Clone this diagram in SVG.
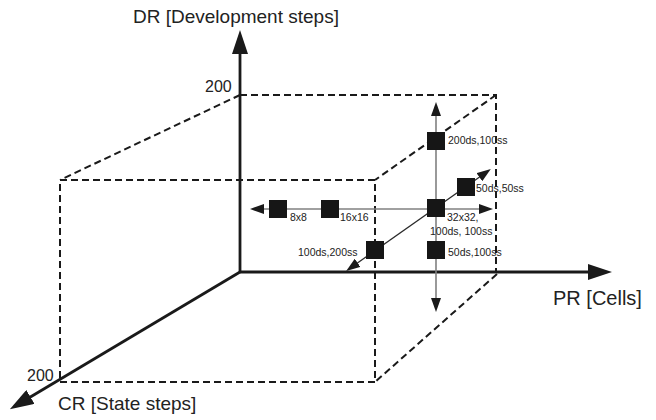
<svg xmlns="http://www.w3.org/2000/svg" width="656" height="420" viewBox="0 0 656 420">
  <style>
    .axis { stroke: #1a1a1a; stroke-width: 2.8; fill: none; }
    .dash { stroke: #1a1a1a; stroke-width: 2; stroke-dasharray: 7 4; fill: none; }
    .grid { stroke: #808080; stroke-width: 1.6; fill: none; }
    .diag { stroke: #2a2a2a; stroke-width: 1.3; fill: none; }
    .node { fill: #161616; }
    .big { font-family: "Liberation Sans", Arial, sans-serif; font-size: 19px; fill: #222; }
    .tick { font-family: "Liberation Sans", Arial, sans-serif; font-size: 16px; fill: #222; }
    .small { font-family: "Liberation Sans", Arial, sans-serif; font-size: 10.5px; fill: #222; }
  </style>
  <defs>
    <marker id="axisHead" markerUnits="userSpaceOnUse" markerWidth="24" markerHeight="16" refX="4" refY="8" orient="auto">
      <path d="M0,0 L24,8 L0,16 z" fill="#1a1a1a"/>
    </marker>
    <marker id="gridHead" markerUnits="userSpaceOnUse" markerWidth="14" markerHeight="10" refX="2" refY="5" orient="auto-start-reverse">
      <path d="M0,0 L14,5 L0,10 z" fill="#1a1a1a"/>
    </marker>
  </defs>

  <!-- dashed bounding box of the parameter space -->
  <g id="box">
    <path class="dash" d="M240,95 H496 V272"/>
    <path class="dash" d="M240,95 L60,180"/>
    <path class="dash" d="M496,95 L375,180"/>
    <path class="dash" d="M497,274 L375,382"/>
    <path class="dash" d="M60,180 H375 V382 H60 Z"/>
  </g>

  <!-- coordinate axes -->
  <g id="axes">
    <line class="axis" x1="240" y1="272" x2="240" y2="50" marker-end="url(#axisHead)"/>
    <line class="axis" x1="240" y1="272" x2="592" y2="272" marker-end="url(#axisHead)"/>
    <line class="axis" x1="240" y1="272" x2="27" y2="399" marker-end="url(#axisHead)"/>
  </g>

  <!-- variation arrows through the reference configuration -->
  <g id="connectors">
    <line class="grid" x1="262" y1="209" x2="481" y2="209" marker-start="url(#gridHead)" marker-end="url(#gridHead)"/>
    <line class="grid" x1="436" y1="114" x2="436" y2="300" marker-start="url(#gridHead)" marker-end="url(#gridHead)"/>
    <line class="diag" x1="356" y1="264" x2="481" y2="176" marker-start="url(#gridHead)" marker-end="url(#gridHead)"/>
  </g>

  <!-- configurations -->
  <g id="n8x8"><rect class="node" x="269" y="200" width="18" height="18"/><text class="small" x="290" y="221">8x8</text></g>
  <g id="n16x16"><rect class="node" x="321" y="200" width="18" height="18"/><text class="small" x="340" y="221">16x16</text></g>
  <g id="n32x32"><rect class="node" x="427" y="199" width="18" height="18"/><text class="small" x="447" y="221">32x32,</text><text class="small" x="430" y="235">100ds, 100ss</text></g>
  <g id="n200ds100ss"><rect class="node" x="427" y="132" width="18" height="18"/><text class="small" x="448" y="144">200ds,100ss</text></g>
  <g id="n50ds50ss"><rect class="node" x="457" y="178" width="18" height="18"/><text class="small" x="476" y="192">50ds,50ss</text></g>
  <g id="n100ds200ss"><rect class="node" x="366" y="241" width="18" height="18"/><text class="small" x="298" y="256">100ds,200ss</text></g>
  <g id="n50ds100ss"><rect class="node" x="427" y="241" width="18" height="18"/><text class="small" x="448" y="256">50ds,100ss</text></g>

  <!-- axis labels -->
  <g id="labels">
    <text class="big" x="133" y="23">DR [Development steps]</text>
    <text class="big" x="553" y="305" style="font-size:20px">PR [Cells]</text>
    <text class="big" x="58" y="410">CR [State steps]</text>
    <text class="tick" x="205" y="92">200</text>
    <text class="tick" x="27" y="381">200</text>
  </g>
</svg>
